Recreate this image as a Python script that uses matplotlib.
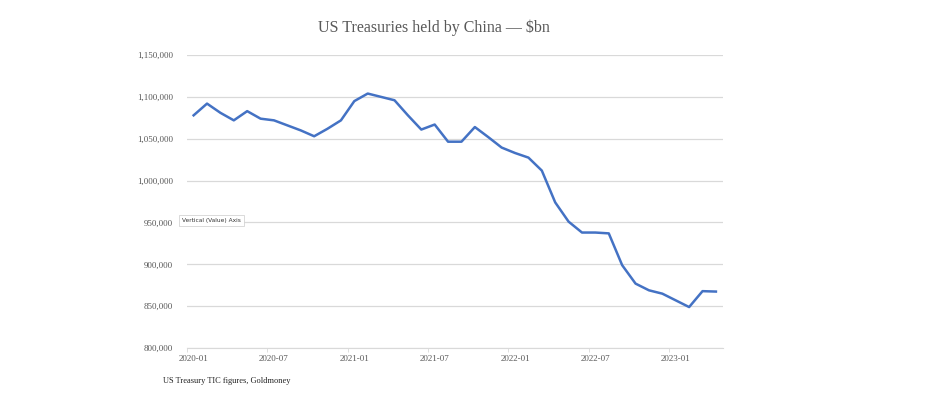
import numpy as np
import matplotlib.pyplot as plt
from matplotlib.ticker import FuncFormatter

# monthly holdings, 2020-01 .. 2023-04
months = ['2020-01', '2020-02', '2020-03', '2020-04', '2020-05', '2020-06',
          '2020-07', '2020-08', '2020-09', '2020-10', '2020-11', '2020-12',
          '2021-01', '2021-02', '2021-03', '2021-04', '2021-05', '2021-06',
          '2021-07', '2021-08', '2021-09', '2021-10', '2021-11', '2021-12',
          '2022-01', '2022-02', '2022-03', '2022-04', '2022-05', '2022-06',
          '2022-07', '2022-08', '2022-09', '2022-10', '2022-11', '2022-12',
          '2023-01', '2023-02', '2023-03', '2023-04']
holdings = [1078000, 1092000, 1081000, 1072000, 1083000, 1074000,
            1072000, 1066000, 1060000, 1053000, 1062000, 1072000,
            1095000, 1104000, 1100000, 1096000, 1078000, 1061000,
            1067000, 1046500, 1046500, 1064000, 1052000, 1039500,
            1033000, 1027500, 1012000, 974000, 951000, 938000,
            938000, 937000, 899000, 877000, 869000, 865000,
            857000, 849000, 868000, 867500]
tick_labels = ['2020-01', '2020-07', '2021-01', '2021-07', '2022-01', '2022-07', '2023-01']

grey = '#595959'
plt.rcParams['font.family'] = ['Liberation Serif', 'DejaVu Serif']

fig = plt.figure(figsize=(9.3, 3.96), dpi=100)
ax = fig.add_axes([0.201, 0.121, 0.576, 0.740])

x = np.arange(len(holdings))
ax.plot(x, holdings, color='#4472C4', linewidth=1.8, solid_joinstyle='round')

# labels on the month, small tick marks between months (Excel date axis style)
pos = [months.index(t) for t in tick_labels]
ax.set_xlim(-0.5, len(holdings) - 0.5)
ax.set_xticks(pos)
ax.set_xticklabels(tick_labels, fontsize=6.5, color=grey)
ax.set_xticks([p - 0.5 for p in pos], minor=True)
ax.set_ylim(800000, 1150000)
ax.set_yticks(np.arange(800000, 1150001, 50000))
ax.yaxis.set_major_formatter(FuncFormatter(lambda v, p: f'{int(v):,}'))
ax.tick_params(axis='y', length=0, labelsize=6.5, labelcolor=grey, pad=10)
ax.tick_params(axis='x', which='major', length=0, labelsize=6.5, pad=5)
ax.tick_params(axis='x', which='minor', length=3, color='#d9d9d9')

ax.grid(axis='y', color='#d9d9d9', linewidth=0.9)
ax.set_axisbelow(True)
for s in ['top', 'right', 'left']:
    ax.spines[s].set_visible(False)
ax.spines['bottom'].set_color('#d9d9d9')

fig.text(0.467, 0.93, 'US Treasuries held by China — $bn', ha='center', va='center',
         fontsize=11.5, color=grey)
fig.text(0.175, 0.038, 'US Treasury TIC figures, Goldmoney', ha='left', va='center',
         fontsize=6, color='#222222')

# leftover tooltip from the source screenshot
ax.text(-0.85, 952000, 'Vertical (Value) Axis', fontsize=4.2, family='DejaVu Sans',
        color='#333333', va='center', ha='left',
        bbox=dict(boxstyle='square,pad=0.5', fc='white', ec='#cccccc', lw=0.5))

fig.savefig('out.png', dpi=100, facecolor='white')
